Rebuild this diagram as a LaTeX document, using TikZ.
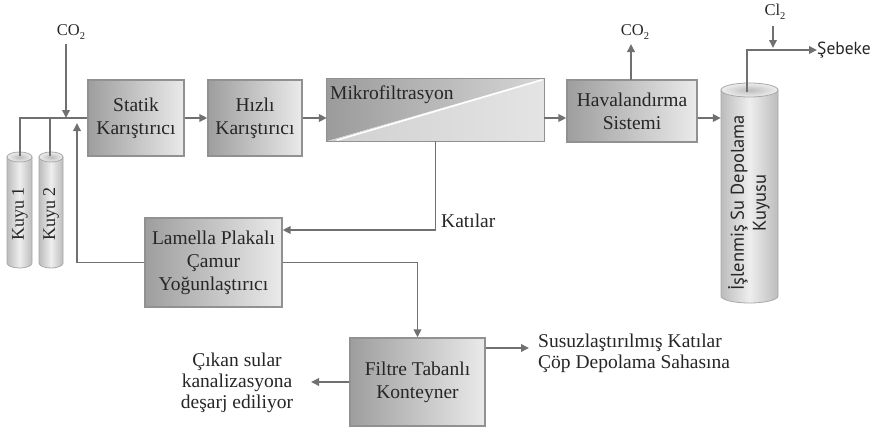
\documentclass[tikz,border=0pt]{standalone}
\usepackage{fontspec}
\setmainfont{Liberation Serif}
\newfontfamily\sansf{PT Sans}
\usetikzlibrary{arrows.meta,calc}

\definecolor{lineg}{RGB}{112,112,112}
\definecolor{boxdark}{RGB}{158,158,158}
\definecolor{boxlight}{RGB}{234,234,234}
\definecolor{boxedge}{RGB}{145,145,145}
\definecolor{txt}{RGB}{38,38,38}
\definecolor{cylside}{RGB}{188,188,188}
\definecolor{cylmid}{RGB}{238,238,238}
\definecolor{cylrim}{RGB}{168,168,168}

\tikzset{
  proc/.style={draw=boxedge, line width=1.3pt, left color=boxdark, right color=boxlight,
    text=txt, align=center, font=\fontsize{19.5}{23}\selectfont, inner sep=0pt},
  flow/.style={draw=lineg, line width=1.8pt, -{Triangle[length=8pt,width=7.5pt]}},
  pipe/.style={draw=lineg, line width=1.8pt},
  lbl/.style={text=txt, font=\fontsize{19.5}{21}\selectfont, inner sep=0pt},
  chem/.style={text=txt, font=\fontsize{16.5}{16.5}\selectfont, inner sep=1pt},
  cylbody/.style={draw=cylrim, line width=0.8pt, left color=cylside, right color=cylside, middle color=cylmid},
  cyltop/.style={draw=cylrim, line width=0.8pt, inner color=cylside, outer color=cylmid},
  cylbox/.style={draw=none, inner sep=0pt},
}

% subscript for chemical formulas
\newcommand{\chemsub}[1]{\raisebox{-0.5ex}{\fontsize{10.5}{10.5}\selectfont #1}}

\begin{document}
\begin{tikzpicture}[x=1pt, y=-1pt]
\useasboundingbox (0,0) rectangle (881,431);
\coordinate (flow) at (0,118);

% ---- wells and storage tank (cylinders) ----
\node[cylbox, minimum width=25pt, minimum height=116pt] (kuyu1) at (19.5,210) {};
\node[cylbox, minimum width=24pt, minimum height=116pt] (kuyu2) at (51,210) {};
\node[cylbox, minimum width=57pt, minimum height=220pt] (depo) at (749.5,193) {};

\shade[cylbody] (7,157) -- (7,263) arc[start angle=180,end angle=0,x radius=12.5,y radius=5] -- (32,157) -- cycle;
\shade[cyltop] (19.5,157) ellipse[x radius=12.5, y radius=5];
\shade[cylbody] (39,157) -- (39,263) arc[start angle=180,end angle=0,x radius=12,y radius=5] -- (63,157) -- cycle;
\shade[cyltop] (51,157) ellipse[x radius=12, y radius=5];
\shade[cylbody] (721,90) -- (721,296) arc[start angle=180,end angle=0,x radius=28.5,y radius=7] -- (778,90) -- cycle;
\shade[cyltop] (749.5,90) ellipse[x radius=28.5, y radius=7];

\node[rotate=90, text=txt, font=\fontsize{18}{20}\selectfont, inner sep=0pt] (k1txt) at (20,214) {Kuyu 1};
\node[rotate=90, text=txt, font=\fontsize{18}{20}\selectfont, inner sep=0pt] (k2txt) at (51,214) {Kuyu 2};
\node[rotate=90, text=txt, align=center, font=\sansf\fontsize{18.5}{22}\selectfont, inner sep=0pt] (dtxt) at (749,203) {İşlenmiş Su Depolama\\Kuyusu};

\coordinate (k1top) at (20,156);
\coordinate (k2top) at (50,156);
\coordinate (dtop) at (747,92);

% ---- process units ----
\node[proc, minimum width=96pt, minimum height=76pt] (statik) at (136,118) {Statik\\Karıştırıcı};
\node[proc, minimum width=94pt, minimum height=76pt] (hizli) at (255,118) {Hızlı\\Karıştırıcı};
\node[draw=none, minimum width=217pt, minimum height=62pt, inner sep=0pt] (mikro) at (435.5,110) {};
\shade[left color={rgb,255:red,155;green,155;blue,155}, right color={rgb,255:red,214;green,214;blue,214}]
  (mikro.north west) -- (mikro.north east) -- (mikro.south west) -- cycle;
\shade[left color={rgb,255:red,208;green,208;blue,208}, right color={rgb,255:red,228;green,228;blue,228}]
  (mikro.south west) -- (mikro.north east) -- (mikro.south east) -- cycle;
\draw[white, line width=1.6pt] ($(mikro.south west)+(10,-1)$) -- ($(mikro.north east)+(-2,1)$);
\draw[boxedge, line width=1.3pt] (mikro.south west) rectangle (mikro.north east);
\node[anchor=west, text=txt, font=\fontsize{19.5}{23}\selectfont, inner sep=0pt] (mikrotxt) at (330,95) {Mikrofiltrasyon};
\node[proc, minimum width=130pt, minimum height=62pt] (hava) at (632,111) {Havalandırma\\Sistemi};
\node[proc, minimum width=137pt, minimum height=89pt] (lamella) at (213.5,262.5) {Lamella Plakalı\\Çamur\\Yoğunlaştırıcı};
\node[proc, minimum width=135pt, minimum height=88pt] (filtre) at (417.5,382) {Filtre Tabanlı\\Konteyner};

% ---- labels ----
\node[chem] (co2a) at (71,32) {CO\chemsub{2}};
\node[chem] (co2b) at (635,32) {CO\chemsub{2}};
\node[chem] (cl2) at (775,12) {Cl\chemsub{2}};
\node[anchor=west, text=txt, font=\sansf\fontsize{17.5}{20}\selectfont, inner sep=0pt] (sebeke) at (817,50) {Şebeke};
\node[lbl, anchor=west] (katilar) at (441,221) {Katılar};
\node[lbl, align=center] (cikan) at (237,383) {Çıkan sular\\kanalizasyona\\deşarj ediliyor};
\node[lbl, align=left, anchor=west] (susuz) at (538,353) {Susuzlaştırılmış Katılar\\Çöp Depolama Sahasına};

\coordinate (ret) at (77,123);
\coordinate (katy) at (0,230);
\coordinate (cikanin) at (311,382);
\coordinate (susuzin) at (529,348);
\coordinate (co2aout) at (66,44);
\coordinate (co2ain) at (66,118);
\coordinate (co2bfrom) at (631,80);
\coordinate (co2bout) at (631,44);
\coordinate (cl2out) at (773,26);
\coordinate (cl2in) at (773,48);

% ---- connectors ----
\draw[pipe] (k1top) |- (statik.west);
\draw[pipe] (k2top) -- (k2top |- statik.west);
\draw[flow] (co2aout) -- (co2ain);
\draw[flow] (lamella.west) -| (ret);
\draw[flow] (statik.east) -- (hizli.west);
\draw[flow] (hizli.east) -- (hizli.east -| mikro.west);
\draw[flow] (mikro.east |- flow) -- (hava.west |- flow);
\draw[flow] (hava.east |- flow) -- (depo.west |- flow);
\draw[flow] (co2bfrom) -- (co2bout);
\draw[flow] (mikro.south) |- (lamella.east |- katy);
\draw[flow] (lamella.east) -| (filtre.north);
\draw[flow] (filtre.west) -- (cikanin);
\draw[flow] (filtre.east |- susuzin) -- (susuzin);
\draw[flow] (dtop) |- (sebeke.west);
\draw[flow] (cl2out) -- (cl2in);
\end{tikzpicture}
\end{document}
